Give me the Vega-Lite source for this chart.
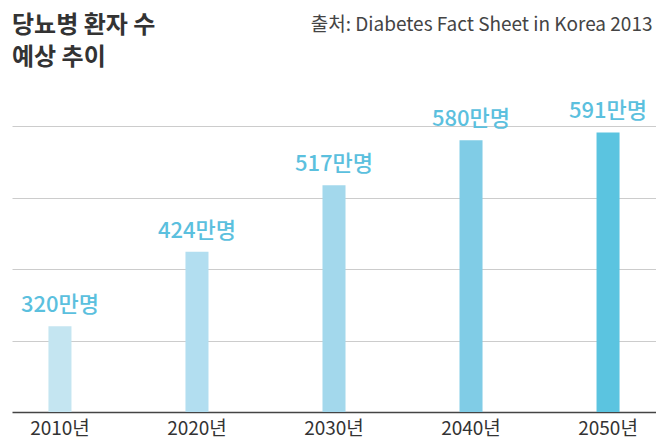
{
  "$schema": "https://vega.github.io/schema/vega-lite/v6.json",
  "autosize": "none",
  "width": 644,
  "height": 286,
  "padding": {"left": 12, "top": 126, "right": 0, "bottom": 27},
  "background": "white",
  "config": {
    "view": {"stroke": null},
    "font": "Noto Sans CJK KR"
  },
  "title": {
    "text": ["당뇨병 환자 수", "예상 추이"],
    "anchor": "start",
    "frame": "group",
    "orient": "top",
    "offset": -55,
    "fontSize": 24,
    "fontWeight": "bold",
    "color": "#333333",
    "lineHeight": 32,
    "font": "Noto Sans CJK KR"
  },
  "data": {
    "values": [
      {"year": "2010년", "value": 320, "label": "320만명", "color": "#c4e5f1"},
      {"year": "2020년", "value": 424, "label": "424만명", "color": "#b2def0"},
      {"year": "2030년", "value": 517, "label": "517만명", "color": "#a3d8ec"},
      {"year": "2040년", "value": 580, "label": "580만명", "color": "#80cce6"},
      {"year": "2050년", "value": 591, "label": "591만명", "color": "#5bc4e0"}
    ]
  },
  "encoding": {
    "x": {
      "field": "year",
      "type": "nominal",
      "sort": null,
      "scale": {"paddingInner": 0.832, "paddingOuter": 0.266},
      "axis": {
        "title": "출처: Diabetes Fact Sheet in Korea 2013",
        "titleX": 640,
        "titleY": -382,
        "titleAlign": "right",
        "titleBaseline": "alphabetic",
        "titleFontSize": 19,
        "titleFontWeight": "normal",
        "titleColor": "#444444",
        "labelAngle": 0,
        "labelFontSize": 19,
        "labelColor": "#333333",
        "labelPadding": 7,
        "ticks": false,
        "domainColor": "#444444",
        "domainWidth": 1.5,
        "grid": false
      }
    },
    "y": {
      "field": "value",
      "type": "quantitative",
      "scale": {"domain": [200, 600], "zero": false},
      "axis": {
        "title": null,
        "values": [300, 400, 500, 600],
        "labels": false,
        "ticks": false,
        "domain": false,
        "grid": true,
        "gridColor": "#cccccc",
        "gridWidth": 1
      }
    }
  },
  "layer": [
    {
      "mark": {"type": "bar", "clip": true},
      "encoding": {
        "color": {"field": "color", "type": "nominal", "scale": null, "legend": null}
      }
    },
    {
      "mark": {
        "type": "text",
        "baseline": "bottom",
        "dy": -9,
        "fontSize": 22,
        "fontWeight": 500,
        "color": "#5bc0de"
      },
      "encoding": {
        "text": {"field": "label", "type": "nominal"}
      }
    }
  ]
}
